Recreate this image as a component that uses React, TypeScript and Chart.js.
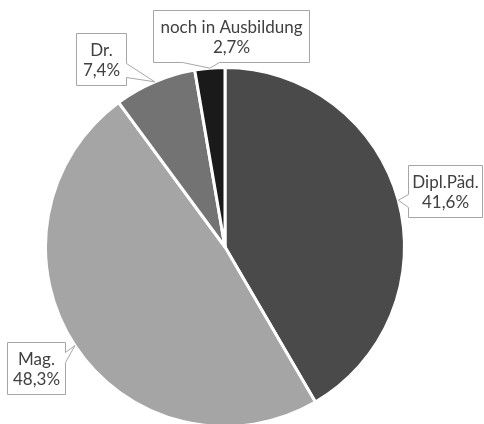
import React, { useEffect, useRef } from "react";
import { Chart, registerables } from "chart.js";
Chart.register(...registerables);

const categories = ["Dipl.Päd.", "Mag.", "Dr.", "noch in Ausbildung"];
const shares = [41.6, 48.3, 7.4, 2.7];
const valueLabels = ["41,6%", "48,3%", "7,4%", "2,7%"];
const sliceColors = ["#4a4a4a", "#a5a5a5", "#737373", "#1a1a1a"];

// callout box placement (box left/right/top, pointer side, pointer base range)
const calloutLayout = [
  { left: 408, right: 482, top: 165, side: "left", b0: 194, b1: 207 },
  { left: 7, right: 65, top: 342, side: "right", b0: 352, b1: 362 },
  { left: 76, right: 126, top: 33, side: "right", b0: 63, b1: 77 },
  { left: 153, right: 309, top: 10, side: "bottom", b0: 182, b1: 219 },
];

const FONT = "17px Lato, 'Noto Sans', sans-serif";

const calloutPlugin = {
  id: "callouts",
  afterDatasetsDraw(chart: any) {
    const ctx = chart.ctx;
    const meta = chart.getDatasetMeta(0);
    ctx.save();
    ctx.font = FONT;
    meta.data.forEach((arc: any, i: number) => {
      const p = arc.getProps(["x", "y", "startAngle", "endAngle", "outerRadius"], true);
      const mid = (p.startAngle + p.endAngle) / 2;
      const tx = p.x + Math.cos(mid) * p.outerRadius;
      const ty = p.y + Math.sin(mid) * p.outerRadius;
      const lines = [categories[i], valueLabels[i]];
      const L = calloutLayout[i];
      const left = L.left + 0.5;
      const right = L.right + 0.5;
      const top = L.top + 0.5;
      const bottom = top + 52;
      ctx.beginPath();
      ctx.moveTo(left, top);
      ctx.lineTo(right, top);
      if (L.side === "right") {
        ctx.lineTo(right, L.b0 + 0.5);
        ctx.lineTo(tx, ty);
        ctx.lineTo(right, L.b1 + 0.5);
      }
      ctx.lineTo(right, bottom);
      if (L.side === "bottom") {
        ctx.lineTo(L.b1 + 0.5, bottom);
        ctx.lineTo(tx, ty);
        ctx.lineTo(L.b0 + 0.5, bottom);
      }
      ctx.lineTo(left, bottom);
      if (L.side === "left") {
        ctx.lineTo(left, L.b1 + 0.5);
        ctx.lineTo(tx, ty);
        ctx.lineTo(left, L.b0 + 0.5);
      }
      ctx.closePath();
      ctx.fillStyle = "#ffffff";
      ctx.fill();
      ctx.strokeStyle = "#a6a6a6";
      ctx.lineWidth = 1;
      ctx.stroke();
      ctx.fillStyle = "#404040";
      ctx.textAlign = "center";
      ctx.textBaseline = "alphabetic";
      const cx = (L.left + L.right) / 2 + 0.5;
      ctx.fillText(lines[0], cx, L.top + 23);
      ctx.fillText(lines[1], cx, L.top + 43);
    });
    ctx.restore();
  },
};

export default function App() {
  const ref = useRef<HTMLCanvasElement | null>(null);
  useEffect(() => {
    document.body.style.margin = "0";
    const chart = new Chart(ref.current as HTMLCanvasElement, {
      type: "pie",
      data: {
        labels: categories,
        datasets: [
          {
            data: shares,
            backgroundColor: sliceColors,
            borderColor: "#ffffff",
            borderWidth: 3,
          },
        ],
      },
      options: {
        responsive: false,
        animation: false,
        devicePixelRatio: 1,
        layout: { padding: { left: 44, right: 78, top: 66, bottom: 2 } },
        plugins: {
          legend: { display: false },
          tooltip: { enabled: false },
        },
      },
      plugins: [calloutPlugin],
    });
    return () => chart.destroy();
  }, []);
  return (
    <div
      style={{
        position: "absolute",
        left: 0,
        top: 0,
        width: 484,
        height: 424,
        overflow: "hidden",
        background: "#ffffff",
      }}
    >
      <canvas ref={ref} width={484} height={430} style={{ display: "block" }} />
    </div>
  );
}
